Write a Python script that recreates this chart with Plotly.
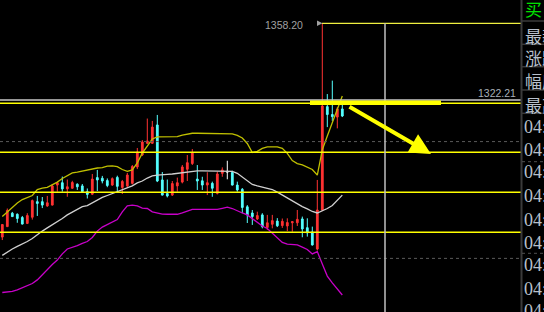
import plotly.graph_objects as go

# ---------------- data ----------------
idx = list(range(69))
opens = [1257.9, 1262.8, 1269.1, 1268.6, 1267.1, 1264.3, 1267.2, 1274.5, 1274.5, 1272.5,
         1272.9, 1282.3, 1283.4, 1280.5, 1280.8, 1282.7, 1281.9, 1279.2, 1278.0, 1285.8,
         1285.5, 1284.4, 1282.3, 1285.9, 1281.2, 1281.9, 1283.1, 1290.8, 1296.4, 1301.9,
         1301.9, 1310.5, 1284.7, 1278.3, 1277.6, 1281.9, 1283.7, 1289.7, 1292.4, 1285.1,
         1284.3, 1282.3, 1283.1, 1278.4, 1287.8, 1288.7, 1288.2, 1282.3, 1280.3, 1272.1,
         1269.2, 1266.4, 1268.3, 1262.4, 1263.9, 1265.4, 1263.3, 1263.1, 1264.6, 1264.6,
         1266.4, 1262.3, 1260.3, 1252.3, 1270.6, 1319.1, 1315.4, 1314.2, 1318.0]
highs = [1264.0, 1271.3, 1269.7, 1269.0, 1267.8, 1269.1, 1275.5, 1277.2, 1276.7, 1277.2,
         1282.8, 1283.7, 1286.3, 1284.9, 1284.3, 1283.1, 1282.8, 1280.7, 1287.5, 1289.4,
         1286.6, 1285.4, 1285.9, 1286.7, 1284.7, 1288.0, 1291.7, 1299.7, 1303.4, 1313.5,
         1312.4, 1315.2, 1288.4, 1284.9, 1284.2, 1285.8, 1291.7, 1296.4, 1299.2, 1291.7,
         1286.2, 1288.3, 1283.9, 1288.6, 1290.6, 1293.7, 1289.0, 1283.9, 1280.9, 1272.9,
         1270.6, 1269.8, 1269.1, 1268.3, 1268.3, 1266.8, 1266.6, 1266.7, 1265.4, 1270.6,
         1267.5, 1266.7, 1262.8, 1284.7, 1358.2, 1325.0, 1331.3, 1318.9, 1321.3]
lows = [1256.5, 1262.6, 1267.3, 1264.6, 1263.8, 1264.0, 1266.1, 1267.8, 1271.5, 1272.1,
        1272.7, 1279.2, 1279.2, 1276.8, 1280.5, 1280.0, 1278.8, 1276.0, 1277.6, 1279.5,
        1283.1, 1281.3, 1281.9, 1278.6, 1278.1, 1280.9, 1282.6, 1289.8, 1295.9, 1301.6,
        1301.6, 1283.7, 1277.4, 1276.5, 1277.2, 1279.2, 1283.1, 1284.2, 1291.7, 1280.0,
        1280.0, 1277.6, 1276.8, 1277.9, 1286.2, 1285.0, 1282.1, 1279.2, 1269.1, 1264.5,
        1263.6, 1265.9, 1262.0, 1261.2, 1262.0, 1262.6, 1262.2, 1260.7, 1260.4, 1263.1,
        1257.8, 1258.1, 1253.9, 1251.6, 1270.1, 1309.5, 1312.4, 1308.9, 1314.2]
closes = [1263.8, 1270.4, 1267.5, 1266.6, 1264.0, 1268.0, 1275.0, 1273.7, 1272.9, 1274.0,
          1281.9, 1283.4, 1280.5, 1281.5, 1283.5, 1281.5, 1279.2, 1277.9, 1285.1, 1284.7,
          1284.2, 1282.1, 1285.3, 1281.7, 1284.0, 1287.0, 1291.0, 1297.8, 1302.5, 1303.0,
          1309.5, 1284.2, 1277.6, 1277.2, 1283.0, 1283.4, 1290.8, 1292.8, 1297.3, 1284.2,
          1282.3, 1283.4, 1280.8, 1287.5, 1289.4, 1288.4, 1282.3, 1280.0, 1271.8, 1268.3,
          1267.5, 1268.0, 1262.8, 1264.6, 1265.6, 1263.2, 1265.3, 1264.7, 1265.1, 1266.2,
          1261.7, 1259.9, 1254.2, 1270.6, 1319.4, 1315.4, 1314.4, 1318.0, 1314.7]
doji_idx = [45]

upper = [1267.5, 1269.7, 1271.5, 1273.9, 1275.5, 1276.5, 1277.4, 1280.2, 1280.9, 1281.2,
         1282.3, 1283.7, 1285.4, 1286.8, 1288.0, 1288.4, 1288.9, 1289.4, 1290.1, 1290.3,
         1290.5, 1291.2, 1291.3, 1290.9, 1289.6, 1288.7, 1289.4, 1292.7, 1297.3, 1300.4,
         1303.9, 1304.9, 1304.9, 1305.0, 1304.9, 1305.0, 1305.7, 1306.3, 1306.6, 1306.6,
         1306.6, 1306.6, 1306.6, 1306.6, 1306.6, 1306.6, 1306.3, 1305.6, 1304.4, 1301.8,
         1297.6, 1298.1, 1299.5, 1300.2, 1300.3, 1300.2, 1299.5, 1297.2, 1293.8, 1292.4,
         1291.8, 1290.8, 1289.6, 1287.0, 1298.8, 1305.3, 1311.7, 1318.0, 1324.1]
middle = [1249.3, 1250.9, 1252.3, 1253.5, 1254.6, 1255.8, 1257.2, 1259.1, 1260.7, 1262.2,
          1263.6, 1265.2, 1266.6, 1268.3, 1269.7, 1271.1, 1272.2, 1272.7, 1274.1, 1275.5,
          1276.5, 1277.4, 1278.3, 1279.2, 1280.2, 1281.2, 1281.9, 1283.3, 1284.2, 1285.6,
          1286.6, 1287.0, 1287.0, 1287.3, 1287.5, 1287.8, 1288.2, 1288.7, 1289.0, 1289.0,
          1289.0, 1289.0, 1289.0, 1289.0, 1289.0, 1289.0, 1288.7, 1287.8, 1286.1, 1284.0,
          1282.6, 1281.9, 1281.4, 1280.9, 1280.2, 1279.0, 1277.6, 1276.0, 1274.6, 1273.6,
          1272.2, 1271.1, 1269.9, 1269.2, 1270.1, 1271.3, 1272.7, 1275.1, 1277.6]
lower = [1231.9, 1232.1, 1232.4, 1233.1, 1234.0, 1234.9, 1236.1, 1237.8, 1240.3, 1242.9,
         1245.0, 1247.1, 1250.0, 1252.3, 1253.0, 1253.9, 1254.9, 1255.8, 1257.7, 1260.7,
         1262.6, 1263.8, 1265.0, 1266.1, 1269.7, 1272.5, 1272.9, 1272.5, 1271.5, 1271.3,
         1269.7, 1269.2, 1268.7, 1268.6, 1268.6, 1268.6, 1269.2, 1270.1, 1270.9, 1270.9,
         1270.9, 1270.9, 1270.9, 1270.9, 1271.4, 1271.9, 1271.3, 1270.1, 1269.2, 1268.3,
         1266.6, 1264.5, 1263.1, 1261.9, 1259.8, 1257.9, 1255.4, 1254.6, 1254.4, 1254.2,
         1253.2, 1252.1, 1250.0, 1251.1, 1245.3, 1239.6, 1236.4, 1233.5, 1230.7]

high_price = 1358.20
last_price = 1322.21
yellow_levels = [1320.7, 1297.7, 1278.9, 1260.1]
dotted_levels = [1302.7, 1247.9]
key_level = 1320.9
panel_labels = ["买", "最新", "涨跌", "幅度", "最高"]
time_labels = ["04:"] * 9

# ---------------- styles ----------------
W, H = 544, 312
PW = 521
XR = [-0.46, 103.74]
YR = [1222.74, 1369.13]
RED = "#ff3232"
CYAN = "#54ffff"
YEL = "#ffff00"
GRID = "#3a3a3a"
TXT = "#b8c0cc"


def px(v):
    return v / W


def py(v):
    return 1 - v / H


main = [i for i in idx if i not in doji_idx]
fig = go.Figure()
fig.add_trace(go.Candlestick(
    x=main, open=[opens[i] for i in main], high=[highs[i] for i in main],
    low=[lows[i] for i in main], close=[closes[i] for i in main],
    increasing=dict(line=dict(color=RED, width=1), fillcolor=RED),
    decreasing=dict(line=dict(color=CYAN, width=1), fillcolor=CYAN),
    whiskerwidth=0, hoverinfo="skip"))
fig.add_trace(go.Candlestick(
    x=doji_idx, open=[opens[i] for i in doji_idx], high=[highs[i] for i in doji_idx],
    low=[lows[i] for i in doji_idx], close=[closes[i] for i in doji_idx],
    increasing=dict(line=dict(color="#ffffff", width=1), fillcolor="#ffffff"),
    decreasing=dict(line=dict(color="#ffffff", width=1), fillcolor="#ffffff"),
    whiskerwidth=0, hoverinfo="skip"))

for vals, col in [(upper, "#c0c000"), (middle, "#d0d0d0"), (lower, "#c800c8")]:
    fig.add_trace(go.Scatter(x=idx, y=vals, mode="lines",
                             line=dict(color=col, width=1.3), hoverinfo="skip"))

shapes = []
# price lines
shapes.append(dict(type="line", xref="paper", yref="y", x0=0, x1=px(PW),
                   y0=last_price, y1=last_price, line=dict(color="#c8c8c8", width=1.5)))
for lv in yellow_levels:
    shapes.append(dict(type="line", xref="paper", yref="y", x0=0, x1=px(PW),
                       y0=lv, y1=lv, line=dict(color=YEL, width=1.5)))
for lv in dotted_levels:
    shapes.append(dict(type="line", xref="paper", yref="y", x0=0, x1=px(PW),
                       y0=lv, y1=lv, line=dict(color="#5a5a5a", width=1, dash="dot")))
# high marker line
shapes.append(dict(type="line", xref="paper", yref="y", x0=px(322), x1=px(PW),
                   y0=high_price, y1=high_price, line=dict(color="#f0f040", width=1.2)))
shapes.append(dict(type="path", xref="paper", yref="y",
                   path=f"M {px(317)},{high_price+1.3} L {px(317)},{high_price-1.3} L {px(322.5)},{high_price} Z",
                   fillcolor="#a0a0a0", line=dict(width=0)))
# vertical cursor line
shapes.append(dict(type="line", xref="paper", yref="paper", x0=px(385), x1=px(385),
                   y0=0, y1=py(23.3), line=dict(color="#c0c0c0", width=1.5)))
# thick key level
shapes.append(dict(type="line", xref="paper", yref="y", x0=px(310), x1=px(441),
                   y0=key_level, y1=key_level, line=dict(color=YEL, width=4.5)))
# right panel
shapes.append(dict(type="line", xref="paper", yref="paper", x0=px(521.5), x1=px(521.5),
                   y0=0, y1=1, line=dict(color=GRID, width=2)))
for yy in [21, 44.3, 66.7, 90, 113.3]:
    shapes.append(dict(type="line", xref="paper", yref="paper", x0=px(522), x1=1,
                       y0=py(yy), y1=py(yy), line=dict(color=GRID, width=1.5)))
for yy in [161.7, 253.3]:
    shapes.append(dict(type="line", xref="paper", yref="paper", x0=px(522), x1=1,
                       y0=py(yy), y1=py(yy), line=dict(color="#505050", width=1, dash="dot")))

ann = []
ann.append(dict(xref="paper", yref="paper", x=px(304.5), y=py(25), xanchor="right", yanchor="middle",
                text="1358.20", showarrow=False,
                font=dict(family="Liberation Sans", size=10.5, color="#a0a0a0")))
ann.append(dict(xref="paper", yref="paper", x=px(518), y=py(92.7), xanchor="right", yanchor="middle",
                text="1322.21", showarrow=False,
                font=dict(family="Liberation Sans", size=10.5, color="#a8b0b8")))
# arrow
ann.append(dict(xref="x", yref="y", axref="x", ayref="y",
                x=85.74, y=1296.9, ax=69.14, ay=1319.4, text="", showarrow=True,
                arrowhead=2, arrowsize=1.05, arrowwidth=4, arrowcolor=YEL))
panel_y = [8.5, 35, 57.5, 80.5, 104.5]
for t, yy in zip(panel_labels, panel_y):
    ann.append(dict(xref="paper", yref="paper", x=px(522.5), y=py(yy), xanchor="left", yanchor="middle",
                    text=t, showarrow=False,
                    font=dict(family="Noto Sans CJK SC", size=17,
                              color="#00e000" if t == "买" else TXT)))
time_y = [126.5, 150, 172, 196, 219.5, 242.5, 265, 289, 311]
for t, yy in zip(time_labels, time_y):
    ann.append(dict(xref="paper", yref="paper", x=px(522), y=py(yy), xanchor="left", yanchor="middle",
                    text=t, showarrow=False,
                    font=dict(family="Liberation Serif", size=18, color=TXT)))

fig.update_layout(
    width=W, height=H, margin=dict(l=0, r=0, t=0, b=0, pad=0),
    paper_bgcolor="#000000", plot_bgcolor="#000000",
    showlegend=False, boxgap=0.5, hovermode=False,
    xaxis=dict(domain=[0, px(PW)], range=XR, visible=False, rangeslider=dict(visible=False),
               fixedrange=True),
    yaxis=dict(range=YR, visible=False, fixedrange=True),
    shapes=shapes, annotations=ann,
)

fig.write_html("out.html", config={"displayModeBar": False})
